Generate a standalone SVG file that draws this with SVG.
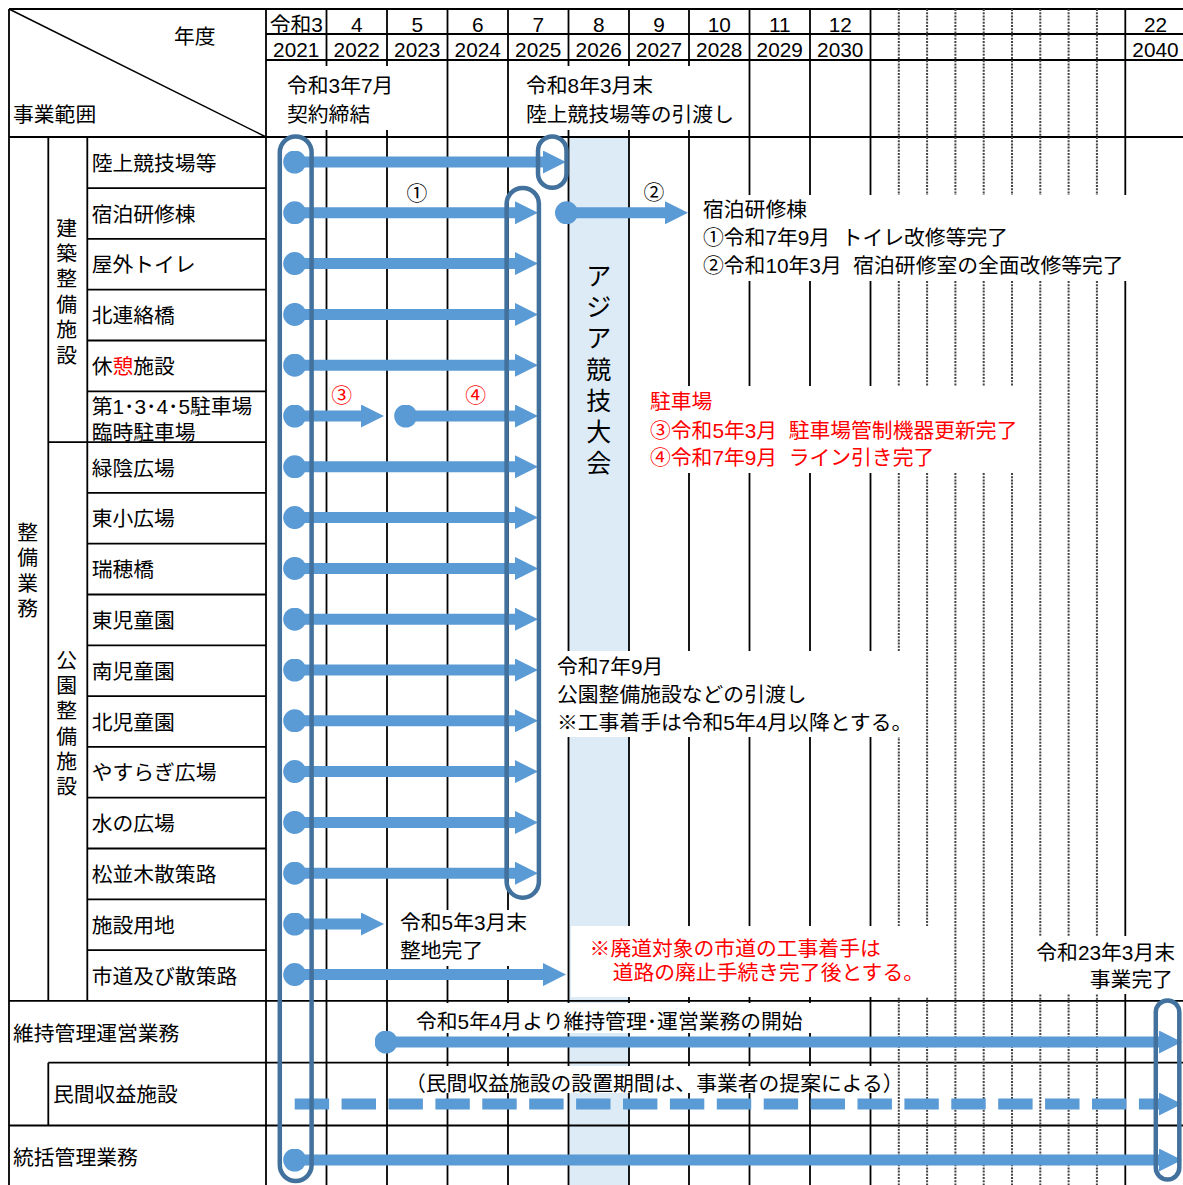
<svg xmlns="http://www.w3.org/2000/svg" width="1183" height="1185" viewBox="0 0 1183 1185">
<defs>
<style>
.t{font-family:"Liberation Sans","Noto Sans CJK JP","Noto Sans CJK SC",sans-serif;font-size:20.8px;fill:#000}
.red{fill:#ff0000}
.c{text-anchor:middle}
.e{text-anchor:end}
.g{stroke:#000;stroke-width:1.8;fill:none}
.d{stroke:#444;stroke-width:2;stroke-dasharray:2 1.2;fill:none}
.wb{fill:#fff}
.bar{stroke:#5B9BD5;stroke-width:11;fill:none}
.dash{stroke-dasharray:34.4 12.5}
.br{fill:none;stroke:#41719C;stroke-width:4.5}
.big{font-size:25px}
</style>
<marker id="ah" viewBox="0 0 23 23" refX="0" refY="11.5" markerWidth="23" markerHeight="23" markerUnits="userSpaceOnUse" orient="auto"><path d="M0,0L23,11.5L0,23z" fill="#5B9BD5"/></marker>
<marker id="dot" viewBox="0 0 23 23" refX="11.5" refY="11.5" markerWidth="23" markerHeight="23" markerUnits="userSpaceOnUse" orient="auto"><circle cx="11.5" cy="11.5" r="11.5" fill="#5B9BD5"/></marker>
</defs>
<rect width="1183" height="1185" fill="#fff"/>
<rect id="asia-band" x="568.5" y="137" width="60.5" height="1048" fill="#DDEBF7"/>

<g id="grid">
<path class="g" d="M9,9H1183M266,34H1183M266,60H1183M9,137H1183M9,1000.9H1183M48.3,1062.7H1183M9,1125.5H1183"/>
<path class="g" d="M87.3,188.1H266M87.3,238.9H266M87.3,289.7H266M87.3,340.5H266M87.3,391.3H266M48.3,442.1H266M87.3,492.9H266M87.3,543.7H266M87.3,594.5H266M87.3,645.3H266M87.3,696.1H266M87.3,746.9H266M87.3,797.7H266M87.3,848.5H266M87.3,899.3H266M87.3,950.1H266"/>
<path class="g" d="M9,9V1185M48.3,137V1000.9M48.3,1062.7V1125.5M87.3,137V1000.9M266,9V1185M326.5,9V1185M387,9V1185M447.5,9V1185M508,9V1185M568.5,9V1185M629,9V1185M689,9V1185M749.5,9V1185M810,9V1185M870.5,9V1185M1125.3,9V1185"/>
<path class="d" d="M898.8,9V1185M927.1,9V1185M955.4,9V1185M983.7,9V1185M1012,9V1185M1040.3,9V1185M1068.6,9V1185M1096.9,9V1185"/>
<path stroke="#000" stroke-width="1.5" d="M9,9L266,137"/>
</g>

<g id="header">
<text class="t" x="174" y="44">年度</text>
<text class="t" x="13" y="121.5">事業範囲</text>
<text class="t c"><tspan x="296.25" y="32">令和3</tspan><tspan x="296.25" y="57">2021</tspan></text>
<text class="t c"><tspan x="356.75" y="32">4</tspan><tspan x="356.75" y="57">2022</tspan></text>
<text class="t c"><tspan x="417.25" y="32">5</tspan><tspan x="417.25" y="57">2023</tspan></text>
<text class="t c"><tspan x="477.75" y="32">6</tspan><tspan x="477.75" y="57">2024</tspan></text>
<text class="t c"><tspan x="538.25" y="32">7</tspan><tspan x="538.25" y="57">2025</tspan></text>
<text class="t c"><tspan x="598.75" y="32">8</tspan><tspan x="598.75" y="57">2026</tspan></text>
<text class="t c"><tspan x="659" y="32">9</tspan><tspan x="659" y="57">2027</tspan></text>
<text class="t c"><tspan x="719.25" y="32">10</tspan><tspan x="719.25" y="57">2028</tspan></text>
<text class="t c"><tspan x="779.75" y="32">11</tspan><tspan x="779.75" y="57">2029</tspan></text>
<text class="t c"><tspan x="840.25" y="32">12</tspan><tspan x="840.25" y="57">2030</tspan></text>
<text class="t c"><tspan x="1155.5" y="32">22</tspan><tspan x="1155.5" y="57">2040</tspan></text>
</g>

<g id="group-seibi"><text class="t c"><tspan x="27.6" y="539.5">整</tspan><tspan x="27.6" y="565">備</tspan><tspan x="27.6" y="590.5">業</tspan><tspan x="27.6" y="616">務</tspan></text></g>
<g id="group-kenchiku"><text class="t c"><tspan x="66.7" y="235.5">建</tspan><tspan x="66.7" y="260.9">築</tspan><tspan x="66.7" y="286.3">整</tspan><tspan x="66.7" y="311.7">備</tspan><tspan x="66.7" y="337.1">施</tspan><tspan x="66.7" y="362.5">設</tspan></text></g>
<g id="group-koen"><text class="t c"><tspan x="66.7" y="668">公</tspan><tspan x="66.7" y="693.2">園</tspan><tspan x="66.7" y="718.4">整</tspan><tspan x="66.7" y="743.6">備</tspan><tspan x="66.7" y="768.8">施</tspan><tspan x="66.7" y="794">設</tspan></text></g>

<g id="row-rikujo"><text class="t" x="91.7" y="170.7">陸上競技場等</text></g>
<g id="row-shukuhaku"><text class="t" x="91.7" y="221.5">宿泊研修棟</text></g>
<g id="row-toilet"><text class="t" x="91.7" y="272.3">屋外トイレ</text></g>
<g id="row-kitarenraku"><text class="t" x="91.7" y="323.1">北連絡橋</text></g>
<g id="row-kyukei"><text class="t" x="91.7" y="373.9">休<tspan class="red">憩</tspan>施設</text></g>
<g id="row-parking"><text class="t"><tspan x="91.7" y="414">第1･3･4･5駐車場</tspan><tspan x="91.7" y="440">臨時駐車場</tspan></text></g>
<g id="row-ryokuin"><text class="t" x="91.7" y="475.5">緑陰広場</text></g>
<g id="row-higashiko"><text class="t" x="91.7" y="526.3">東小広場</text></g>
<g id="row-mizuho"><text class="t" x="91.7" y="577.1">瑞穂橋</text></g>
<g id="row-higashijido"><text class="t" x="91.7" y="627.9">東児童園</text></g>
<g id="row-minamijido"><text class="t" x="91.7" y="678.7">南児童園</text></g>
<g id="row-kitajido"><text class="t" x="91.7" y="729.5">北児童園</text></g>
<g id="row-yasuragi"><text class="t" x="91.7" y="780.3">やすらぎ広場</text></g>
<g id="row-mizu"><text class="t" x="91.7" y="831.1">水の広場</text></g>
<g id="row-matsunamiki"><text class="t" x="91.7" y="881.9">松並木散策路</text></g>
<g id="row-shisetsuyochi"><text class="t" x="91.7" y="932.7">施設用地</text></g>
<g id="row-shido"><text class="t" x="91.7" y="983.5">市道及び散策路</text></g>
<g id="row-iji"><text class="t" x="13" y="1040.5">維持管理運営業務</text></g>
<g id="row-minkan"><text class="t" x="53" y="1102">民間収益施設</text></g>
<g id="row-tokatsu"><text class="t" x="13" y="1164.5">統括管理業務</text></g>

<g id="asia-label"><text class="t c big"><tspan x="598.75" y="285">ア</tspan><tspan x="598.75" y="316.2">ジ</tspan><tspan x="598.75" y="347.4">ア</tspan><tspan x="598.75" y="378.6">競</tspan><tspan x="598.75" y="409.8">技</tspan><tspan x="598.75" y="441">大</tspan><tspan x="598.75" y="472.2">会</tspan></text></g>

<g id="note-keiyaku"><rect class="wb" x="280" y="66" width="114" height="64"/><text class="t"><tspan x="287" y="93">令和3年7月</tspan><tspan x="287" y="121.5">契約締結</tspan></text></g>
<g id="note-hikiwatashi"><rect class="wb" x="520" y="66" width="220" height="64"/><text class="t"><tspan x="526" y="93">令和8年3月末</tspan><tspan x="526" y="121.5">陸上競技場等の引渡し</tspan></text></g>
<g id="note-shukuhaku"><rect class="wb" x="693" y="195" width="447" height="86"/><text class="t"><tspan x="703" y="216.5">宿泊研修棟</tspan><tspan x="703" y="245">①令和7年9月&#160;&#160;トイレ改修等完了</tspan><tspan x="703" y="273">②令和10年3月&#160;&#160;宿泊研修室の全面改修等完了</tspan></text></g>
<g id="note-parking"><rect class="wb" x="638" y="386" width="394" height="87"/><text class="t red"><tspan x="650" y="408.5">駐車場</tspan><tspan x="650" y="437.5">③令和5年3月&#160;&#160;駐車場管制機器更新完了</tspan><tspan x="650" y="465">④令和7年9月&#160;&#160;ライン引き完了</tspan></text></g>
<g id="note-koen"><rect class="wb" x="551" y="651" width="355" height="86"/><text class="t"><tspan x="557" y="674">令和7年9月</tspan><tspan x="557" y="701.5">公園整備施設などの引渡し</tspan><tspan x="557" y="730">※工事着手は令和5年4月以降とする。</tspan></text></g>
<g id="note-seichi"><rect class="wb" x="393" y="910" width="145" height="56"/><text class="t"><tspan x="400" y="930">令和5年3月末</tspan><tspan x="400" y="958">整地完了</tspan></text></g>
<g id="note-haido"><rect class="wb" x="571" y="926" width="382" height="71"/><text class="t red"><tspan x="589.6" y="956">※廃道対象の市道の工事着手は</tspan><tspan x="612.7" y="980">道路の廃止手続き完了後とする。</tspan></text></g>
<g id="note-kanryo"><rect class="wb" x="1028" y="936" width="155" height="58"/><text class="t e"><tspan x="1175" y="959.5">令和23年3月末</tspan><tspan x="1173" y="986.5">事業完了</tspan></text></g>
<g id="note-iji"><rect class="wb" x="392" y="1003" width="420" height="30"/><text class="t" x="416" y="1028.5">令和5年4月より維持管理･運営業務の開始</text></g>
<g id="note-minkan"><rect class="wb" x="400" y="1066" width="493" height="27"/><text class="t" x="405" y="1091">（民間収益施設の設置期間は、事業者の提案による）</text></g>
<g id="marks"><text class="t c" x="417" y="200.5">①</text><text class="t c" x="654" y="199.5">②</text><text class="t c red" x="341.7" y="402.5">③</text><text class="t c red" x="475.7" y="402.5">④</text></g>

<g id="connectors">
<line class="bar" x1="294.7" y1="162" x2="543" y2="162" marker-start="url(#dot)" marker-end="url(#ah)"/>
<line class="bar" x1="294.7" y1="212.8" x2="515" y2="212.8" marker-start="url(#dot)" marker-end="url(#ah)"/>
<line class="bar" x1="566.5" y1="212.8" x2="665" y2="212.8" marker-start="url(#dot)" marker-end="url(#ah)"/>
<line class="bar" x1="294.7" y1="263.6" x2="515" y2="263.6" marker-start="url(#dot)" marker-end="url(#ah)"/>
<line class="bar" x1="294.7" y1="314.4" x2="515" y2="314.4" marker-start="url(#dot)" marker-end="url(#ah)"/>
<line class="bar" x1="294.7" y1="365.2" x2="515" y2="365.2" marker-start="url(#dot)" marker-end="url(#ah)"/>
<line class="bar" x1="294.7" y1="416" x2="361" y2="416" marker-start="url(#dot)" marker-end="url(#ah)"/>
<line class="bar" x1="405.7" y1="416" x2="515" y2="416" marker-start="url(#dot)" marker-end="url(#ah)"/>
<line class="bar" x1="294.7" y1="466.8" x2="515" y2="466.8" marker-start="url(#dot)" marker-end="url(#ah)"/>
<line class="bar" x1="294.7" y1="517.6" x2="515" y2="517.6" marker-start="url(#dot)" marker-end="url(#ah)"/>
<line class="bar" x1="294.7" y1="568.4" x2="515" y2="568.4" marker-start="url(#dot)" marker-end="url(#ah)"/>
<line class="bar" x1="294.7" y1="619.2" x2="515" y2="619.2" marker-start="url(#dot)" marker-end="url(#ah)"/>
<line class="bar" x1="294.7" y1="670" x2="515" y2="670" marker-start="url(#dot)" marker-end="url(#ah)"/>
<line class="bar" x1="294.7" y1="720.8" x2="515" y2="720.8" marker-start="url(#dot)" marker-end="url(#ah)"/>
<line class="bar" x1="294.7" y1="771.6" x2="515" y2="771.6" marker-start="url(#dot)" marker-end="url(#ah)"/>
<line class="bar" x1="294.7" y1="822.4" x2="515" y2="822.4" marker-start="url(#dot)" marker-end="url(#ah)"/>
<line class="bar" x1="294.7" y1="873.2" x2="515" y2="873.2" marker-start="url(#dot)" marker-end="url(#ah)"/>
<line class="bar" x1="294.7" y1="924" x2="361" y2="924" marker-start="url(#dot)" marker-end="url(#ah)"/>
<line class="bar" x1="294.7" y1="974.6" x2="543" y2="974.6" marker-start="url(#dot)" marker-end="url(#ah)"/>
<line class="bar" x1="386" y1="1042" x2="1159" y2="1042" marker-start="url(#dot)" marker-end="url(#ah)"/>
<line class="bar dash" x1="294.7" y1="1104" x2="1159" y2="1104" marker-end="url(#ah)"/>
<line class="bar" x1="294.7" y1="1160" x2="1159" y2="1160" marker-start="url(#dot)" marker-end="url(#ah)"/>
</g>

<g id="brackets">
<rect class="br" x="279.8" y="136.5" width="31.8" height="1044.5" rx="15.9"/>
<rect class="br" x="538" y="136.5" width="28.5" height="51.3" rx="14.25"/>
<rect class="br" x="506.6" y="188" width="32.3" height="709.7" rx="16.1"/>
<rect class="br" x="1155.8" y="1000.5" width="23.5" height="179" rx="11.75"/>
</g>
</svg>
